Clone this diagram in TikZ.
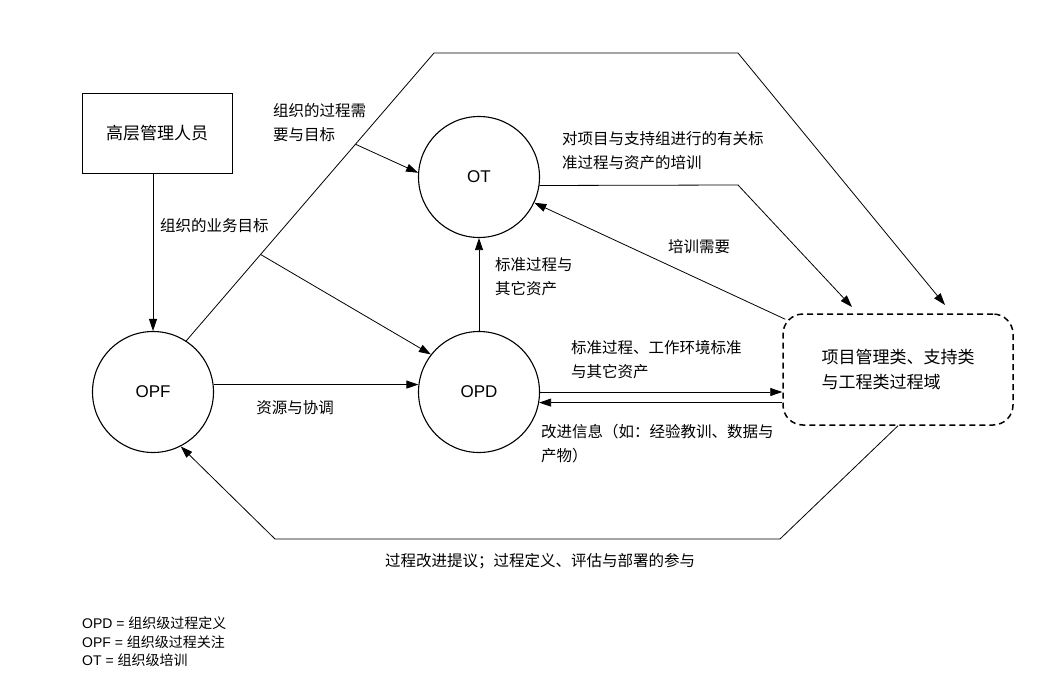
\documentclass[tikz,border=0pt]{standalone}
\usepackage{fontspec}
\setmainfont{Liberation Sans}
\newfontfamily\cjk{Noto Sans CJK SC}
\usetikzlibrary{arrows.meta,calc}

\begin{document}
\begin{tikzpicture}[x=1pt,y=-1pt,
  proc/.style={draw, circle, line width=1.1pt, minimum size=121pt, inner sep=0pt, font=\fontsize{17}{20}\selectfont},
  lbl/.style={inner sep=0pt, align=left, font=\cjk\fontsize{15.5}{24}\selectfont},
  arr/.style={line width=0.8pt, -{Triangle[length=12pt,width=8pt]}}]
  \useasboundingbox (0,0) rectangle (1038,693);
  \node[draw, line width=1pt, minimum width=150pt, minimum height=80pt, font=\cjk\fontsize{17}{20}\selectfont] (mgr) at (157,133) {高层管理人员};
  \node[proc] (ot) at (479,177) {OT};
  \node[proc] (opf) at (153,392) {OPF};
  \node[proc] (opd) at (479,392) {OPD};
  \node[draw, line width=1.5pt, dash pattern=on 6pt off 4pt, rounded corners=20pt, minimum width=230pt, minimum height=111pt, align=left, font=\cjk\fontsize{17}{25}\selectfont] (pa) at (898,369.5) {项目管理类、支持类\\与工程类过程域};
  \coordinate (t1) at (434,53);
  \coordinate (t2) at (738,53);
  \coordinate (e1) at (945,305);
  \coordinate (r1) at (738,185);
  \coordinate (e2) at (852,307);
  \coordinate (b1) at (780,539);
  \coordinate (b2) at (275,539);
  \coordinate (j1) at ($(opf.57)!0.30!(t1)$);
  \coordinate (j2) at ($(opf.57)!0.683!(t1)$);
  \draw[arr] (mgr.south -| opf.north) -- (opf.north);
  \draw[arr] (opf.57) -- (t1) -- (t2) -- (e1);
  \draw[arr] (j2) -- (ot.176);
  \draw[arr] (j1) -- (opd.142);
  \draw[arr] (ot.-8) -- (r1) -- (e2);
  \draw[arr] ([shift={(3,6)}]pa.north west) -- (ot.-25);
  \draw[arr] (opd.north) -- (ot.south);
  \draw[arr] (opf.7) -- (opd.173);
  \draw[arr] (opd.east) -- (opd.east -| pa.west);
  \draw[arr] (opd.-10 -| pa.west) -- (opd.-10);
  \draw[arr] (pa.south) -- (b1) -- (b2) -- (opf.-63);
  \node[lbl, anchor=west] (l1) at (160,226) {组织的业务目标};
  \node[lbl, anchor=west] (l2) at (273,123) {组织的过程需\\要与目标};
  \node[lbl, anchor=west] (l3) at (562,151) {对项目与支持组进行的有关标\\准过程与资产的培训};
  \node[lbl] (l4) at (699,247) {培训需要};
  \node[lbl, anchor=west] (l5) at (495,277) {标准过程与\\其它资产};
  \node[lbl, anchor=west] (l6) at (571,360) {标准过程、工作环境标准\\与其它资产};
  \node[lbl, anchor=west] (l7) at (541,444) {改进信息（如：经验教训、数据与\\产物）};
  \node[lbl] (l8) at (295,408) {资源与协调};
  \node[lbl] (l9) at (540,561) {过程改进提议；过程定义、评估与部署的参与};
  \node[anchor=west, align=left, inner sep=0pt, font=\fontsize{14}{18.5}\selectfont] (key) at (82,642) {OPD = {\cjk 组织级过程定义}\\OPF = {\cjk 组织级过程关注}\\OT = {\cjk 组织级培训}};
\end{tikzpicture}
\end{document}
